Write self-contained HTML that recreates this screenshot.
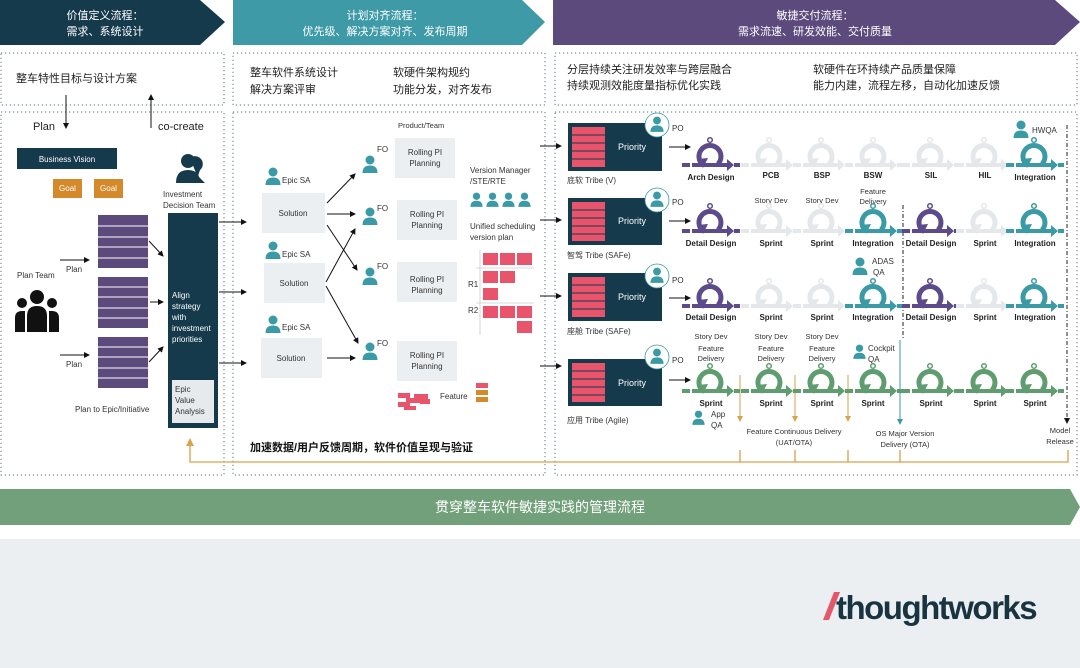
<!DOCTYPE html>
<html><head><meta charset="utf-8"><style>
html,body{margin:0;padding:0;background:#fff}
svg{display:block}
text{font-family:"Liberation Sans","Noto Sans CJK SC",sans-serif}
</style></head><body>
<svg width="1080" height="668" viewBox="0 0 1080 668" xmlns="http://www.w3.org/2000/svg">
<defs>
<symbol id="sp" viewBox="0 0 60 36" width="60" height="36">
 <path d="M37 29 A11 11 0 1 0 22 30" fill="none" stroke="currentColor" stroke-width="5"/>
 <polygon points="16,24 27,23 22,33" fill="currentColor"/>
 <circle cx="29" cy="5" r="2.3" fill="none" stroke="currentColor" stroke-width="1.5"/>
 <rect x="1" y="28" width="8" height="4" fill="currentColor"/>
 <rect x="11" y="28" width="36" height="4" fill="currentColor"/>
 <rect x="53" y="28" width="6" height="4" fill="currentColor"/>
 <polygon points="46,24 53,30 46,36" fill="currentColor"/>
</symbol>
<symbol id="pp" viewBox="0 0 16 18" width="16" height="18">
 <circle cx="8" cy="5" r="4.5" fill="currentColor"/>
 <path d="M0.5 18 Q0.5 10.5 8 10.5 Q15.5 10.5 15.5 18 Z" fill="currentColor"/>
</symbol>
<marker id="ar" markerWidth="6" markerHeight="6" refX="5" refY="3" orient="auto"><path d="M0,0 L6,3 L0,6 Z" fill="#111"/></marker>
<marker id="ao" markerWidth="6" markerHeight="6" refX="5" refY="3" orient="auto"><path d="M0,0 L6,3 L0,6 Z" fill="#d9a24b"/></marker>
<marker id="at" markerWidth="6" markerHeight="6" refX="5" refY="3" orient="auto"><path d="M0,0 L6,3 L0,6 Z" fill="#3a9aa5"/></marker>
</defs>

<!-- header chevrons -->
<polygon points="0,0 200,0 225,22 200,45 0,45" fill="#143a4c"/>
<polygon points="233,0 522,0 545,22 522,45 233,45" fill="#3d9aa6"/>
<polygon points="553,0 1055,0 1080,22 1055,45 553,45" fill="#5c4a7d"/>
<g fill="#fff" font-size="11" text-anchor="middle">
<text x="105" y="19">价值定义流程：</text><text x="105" y="35">需求、系统设计</text>
<text x="385" y="19">计划对齐流程：</text><text x="385" y="35">优先级、解决方案对齐、发布周期</text>
<text x="815" y="19">敏捷交付流程：</text><text x="815" y="35">需求流速、研发效能、交付质量</text>
</g>

<!-- dotted boxes -->
<g fill="none" stroke="#7c8c96" stroke-width="1.2" stroke-dasharray="1.2 2.8">
<rect x="1" y="53" width="223" height="52"/><rect x="233" y="53" width="312" height="52"/><rect x="555" y="53" width="522" height="52"/>
<rect x="1" y="112" width="223" height="363"/><rect x="233" y="112" width="312" height="363"/><rect x="555" y="112" width="522" height="363"/>
</g>

<g fill="#222" font-size="11">
<text x="16" y="82">整车特性目标与设计方案</text>
<text x="250" y="76">整车软件系统设计</text><text x="250" y="93">解决方案评审</text>
<text x="393" y="76">软硬件架构规约</text><text x="393" y="93">功能分发，对齐发布</text>
<text x="567" y="73">分层持续关注研发效率与跨层融合</text><text x="567" y="89">持续观测效能度量指标优化实践</text>
<text x="813" y="73">软硬件在环持续产品质量保障</text><text x="813" y="89">能力内建，流程左移，自动化加速反馈</text>
</g>

<!-- LEFT section -->
<line x1="66" y1="95" x2="66" y2="128" stroke="#111" marker-end="url(#ar)"/>
<line x1="151" y1="128" x2="151" y2="95" stroke="#111" marker-end="url(#ar)"/>
<text x="33" y="130" font-size="11" fill="#222">Plan</text>
<text x="158" y="130" font-size="11" fill="#222">co-create</text>
<rect x="17" y="148" width="100" height="21" fill="#143a4c"/>
<text x="67" y="162" font-size="8" fill="#fff" text-anchor="middle">Business Vision</text>
<rect x="53" y="179" width="29" height="19" fill="#d4892a"/><rect x="94" y="179" width="29" height="19" fill="#d4892a"/>
<text x="67.5" y="191" font-size="8" fill="#fff" text-anchor="middle">Goal</text><text x="108.5" y="191" font-size="8" fill="#fff" text-anchor="middle">Goal</text>
<g fill="#143a4c"><circle cx="196" cy="162" r="5"/><path d="M190 158 A6 6 0 0 1 200 170 L198 176 L205 183 L200 183 Z"/><circle cx="188" cy="161" r="7"/><path d="M176 183 Q176 170 188 170 Q200 170 200 183 Z"/></g>
<text x="163" y="197" font-size="8" fill="#333">Investment</text><text x="163" y="208" font-size="8" fill="#333">Decision Team</text>
<rect x="168" y="213" width="50" height="215" fill="#143a4c"/>
<g font-size="8" fill="#fff"><text x="172" y="298">Align</text><text x="172" y="309">strategy</text><text x="172" y="320">with</text><text x="172" y="331">investment</text><text x="172" y="342">priorities</text></g>
<rect x="172" y="380" width="42" height="43" fill="#e6eaed"/>
<g font-size="8" fill="#333"><text x="175" y="392">Epic</text><text x="175" y="403">Value</text><text x="175" y="414">Analysis</text></g>
<!-- purple stacks -->
<g fill="#5c4a7d">
<rect x="98" y="215" width="50" height="53"/><rect x="98" y="277" width="50" height="51"/><rect x="98" y="337" width="50" height="51"/>
</g>
<g stroke="#fff" stroke-width="1">
<line x1="98" y1="226" x2="148" y2="226"/><line x1="98" y1="237" x2="148" y2="237"/><line x1="98" y1="247" x2="148" y2="247"/><line x1="98" y1="258" x2="148" y2="258"/>
<line x1="98" y1="287" x2="148" y2="287"/><line x1="98" y1="297" x2="148" y2="297"/><line x1="98" y1="308" x2="148" y2="308"/><line x1="98" y1="318" x2="148" y2="318"/>
<line x1="98" y1="347" x2="148" y2="347"/><line x1="98" y1="357" x2="148" y2="357"/><line x1="98" y1="368" x2="148" y2="368"/><line x1="98" y1="378" x2="148" y2="378"/>
</g>
<g stroke="#111" stroke-width="1">
<line x1="149" y1="241" x2="163" y2="256" marker-end="url(#ar)"/>
<line x1="150" y1="302" x2="163" y2="302" marker-end="url(#ar)"/>
<line x1="149" y1="362" x2="163" y2="347" marker-end="url(#ar)"/>
<line x1="60" y1="260" x2="89" y2="260" marker-end="url(#ar)"/>
<line x1="60" y1="355" x2="89" y2="355" marker-end="url(#ar)"/>
<line x1="219" y1="222" x2="246" y2="222" marker-end="url(#ar)"/>
<line x1="219" y1="292" x2="246" y2="292" marker-end="url(#ar)"/>
<line x1="219" y1="363" x2="246" y2="363" marker-end="url(#ar)"/>
</g>
<text x="66" y="272" font-size="8" fill="#333">Plan</text><text x="66" y="367" font-size="8" fill="#333">Plan</text>
<text x="17" y="278" font-size="8" fill="#333">Plan Team</text>
<g fill="#111"><circle cx="37" cy="297" r="7"/><path d="M27 332 L27 316 Q27 306 37 306 Q47 306 47 316 L47 332 Z"/><circle cx="22" cy="303" r="5"/><path d="M15 332 L15 318 Q15 311 22 311 L25 311 L25 332 Z"/><circle cx="52" cy="303" r="5"/><path d="M49 311 L52 311 Q59 311 59 318 L59 332 L49 332 Z"/></g>
<text x="75" y="412" font-size="8" fill="#333">Plan to Epic/Initiative</text>

<!-- MIDDLE -->
<g fill="#eceff1">
<rect x="262" y="193" width="63" height="40"/><rect x="264" y="263" width="61" height="40"/><rect x="261" y="338" width="61" height="40"/>
<rect x="395" y="138" width="60" height="40"/><rect x="397" y="200" width="60" height="40"/><rect x="397" y="262" width="60" height="40"/><rect x="397" y="341" width="60" height="40"/>
</g>
<g font-size="8" fill="#333" text-anchor="middle">
<text x="293" y="216">Solution</text><text x="294" y="286">Solution</text><text x="291" y="361">Solution</text>
<text x="425" y="155">Rolling PI</text><text x="425" y="166">Planning</text>
<text x="427" y="217">Rolling PI</text><text x="427" y="228">Planning</text>
<text x="427" y="282">Rolling PI</text><text x="427" y="293">Planning</text>
<text x="427" y="358">Rolling PI</text><text x="427" y="369">Planning</text>
</g>
<text x="398" y="128" font-size="7.5" fill="#333">Product/Team</text>
<g color="#3a9aa5">
<use href="#pp" x="265" y="167"/><use href="#pp" x="265" y="241"/><use href="#pp" x="265" y="315"/>
<use href="#pp" x="362" y="155"/><use href="#pp" x="362" y="207"/><use href="#pp" x="362" y="267"/><use href="#pp" x="362" y="342"/>
<use href="#pp" x="470" y="192" width="13" height="15"/><use href="#pp" x="486" y="192" width="13" height="15"/><use href="#pp" x="502" y="192" width="13" height="15"/><use href="#pp" x="518" y="192" width="13" height="15"/>
</g>
<g font-size="8" fill="#333">
<text x="282" y="183">Epic SA</text><text x="282" y="257">Epic SA</text><text x="282" y="330">Epic SA</text>
<text x="377" y="152">FO</text><text x="377" y="211">FO</text><text x="377" y="269">FO</text><text x="377" y="346">FO</text>
<text x="470" y="173">Version Manager</text><text x="470" y="184">/STE/RTE</text>
<text x="470" y="229">Unified scheduling</text><text x="470" y="240">version plan</text>
<text x="468" y="287">R1</text><text x="468" y="313">R2</text>
<text x="440" y="399">Feature</text>
</g>
<g stroke="#111" stroke-width="1">
<line x1="327" y1="203" x2="355" y2="174" marker-end="url(#ar)"/>
<line x1="327" y1="214" x2="355" y2="214" marker-end="url(#ar)"/>
<line x1="327" y1="225" x2="357" y2="270" marker-end="url(#ar)"/>
<line x1="326" y1="282" x2="355" y2="229" marker-end="url(#ar)"/>
<line x1="326" y1="286" x2="358" y2="343" marker-end="url(#ar)"/>
<line x1="327" y1="358" x2="355" y2="358" marker-end="url(#ar)"/>
</g>
<g stroke="#ccc" stroke-width="0.8"><line x1="480" y1="250" x2="480" y2="335"/><line x1="476" y1="268" x2="534" y2="268"/><line x1="476" y1="303" x2="534" y2="303"/></g>
<g fill="#e8546b">
<rect x="483" y="253" width="15" height="12"/><rect x="500" y="253" width="15" height="12"/><rect x="517" y="253" width="15" height="12"/>
<rect x="483" y="271" width="15" height="12"/><rect x="500" y="271" width="15" height="12"/>
<rect x="483" y="288" width="15" height="12"/>
<rect x="483" y="306" width="15" height="12"/><rect x="500" y="306" width="15" height="12"/><rect x="517" y="306" width="15" height="12"/>
<rect x="517" y="321" width="15" height="12"/>
<rect x="398" y="393" width="12" height="5"/><rect x="406" y="398" width="14" height="5"/><rect x="414" y="394" width="14" height="5"/><rect x="398" y="402" width="12" height="5"/><rect x="404" y="406" width="12" height="4"/><rect x="420" y="399" width="10" height="5"/>
<rect x="476" y="383" width="12" height="5"/>
</g>
<g fill="#d4892a"><rect x="476" y="390" width="12" height="5"/><rect x="476" y="397" width="12" height="5"/></g>
<text x="250" y="451" font-size="11" font-weight="bold" fill="#111">加速数据/用户反馈周期，软件价值呈现与验证</text>

<!-- feedback line -->
<g stroke="#d9a24b" stroke-width="1.3" fill="none">
<polyline points="1068,450 1068,462 190,462 190,444" />
<line x1="740" y1="450" x2="740" y2="462"/><line x1="795" y1="450" x2="795" y2="462"/><line x1="848" y1="450" x2="848" y2="462"/><line x1="900" y1="450" x2="900" y2="462"/>
</g>
<polygon points="186,446 190,438 194,446" fill="#d9a24b"/>

<!-- RIGHT -->
<g stroke="#111" stroke-width="1">
<line x1="540" y1="146" x2="561" y2="146" marker-end="url(#ar)"/>
<line x1="540" y1="220" x2="561" y2="220" marker-end="url(#ar)"/>
<line x1="540" y1="296" x2="561" y2="296" marker-end="url(#ar)"/>
<line x1="540" y1="366" x2="561" y2="366" marker-end="url(#ar)"/>
<line x1="669" y1="147" x2="690" y2="147" marker-end="url(#ar)"/>
<line x1="669" y1="221" x2="690" y2="221" marker-end="url(#ar)"/>
<line x1="669" y1="298" x2="690" y2="298" marker-end="url(#ar)"/>
<line x1="669" y1="380" x2="690" y2="380" marker-end="url(#ar)"/>
</g>
<g>
<rect x="568" y="123" width="94" height="48" fill="#143a4c"/><rect x="568" y="198" width="94" height="47" fill="#143a4c"/><rect x="568" y="273" width="94" height="48" fill="#143a4c"/><rect x="568" y="359" width="94" height="47" fill="#143a4c"/>
</g>
<g fill="#e8546b">
<rect x="572" y="127" width="33" height="40"/><rect x="572" y="202" width="33" height="39"/><rect x="572" y="277" width="33" height="40"/><rect x="572" y="363" width="33" height="39"/>
</g>
<g stroke="#143a4c" stroke-width="1">
<line x1="572" y1="135" x2="605" y2="135"/><line x1="572" y1="143" x2="605" y2="143"/><line x1="572" y1="151" x2="605" y2="151"/><line x1="572" y1="159" x2="605" y2="159"/>
<line x1="572" y1="210" x2="605" y2="210"/><line x1="572" y1="218" x2="605" y2="218"/><line x1="572" y1="226" x2="605" y2="226"/><line x1="572" y1="234" x2="605" y2="234"/>
<line x1="572" y1="285" x2="605" y2="285"/><line x1="572" y1="293" x2="605" y2="293"/><line x1="572" y1="301" x2="605" y2="301"/><line x1="572" y1="309" x2="605" y2="309"/>
<line x1="572" y1="371" x2="605" y2="371"/><line x1="572" y1="379" x2="605" y2="379"/><line x1="572" y1="387" x2="605" y2="387"/><line x1="572" y1="395" x2="605" y2="395"/>
</g>
<g font-size="9" fill="#fff" text-anchor="middle"><text x="632" y="150">Priority</text><text x="632" y="224">Priority</text><text x="632" y="300">Priority</text><text x="632" y="386">Priority</text></g>
<g fill="#fff" stroke="#3a9aa5" stroke-width="0.8"><circle cx="657" cy="125" r="12"/><circle cx="657" cy="200" r="12"/><circle cx="657" cy="276" r="12"/><circle cx="657" cy="357" r="12"/></g>
<g color="#3a9aa5"><use href="#pp" x="650" y="116" width="14" height="16"/><use href="#pp" x="650" y="191" width="14" height="16"/><use href="#pp" x="650" y="267" width="14" height="16"/><use href="#pp" x="650" y="348" width="14" height="16"/>
<use href="#pp" x="1013" y="120"/><use href="#pp" x="852" y="257"/><use href="#pp" x="853" y="344" width="13" height="15"/><use href="#pp" x="692" y="410" width="13" height="15"/></g>
<g font-size="8" fill="#333">
<text x="672" y="131">PO</text><text x="672" y="205">PO</text><text x="672" y="283">PO</text><text x="672" y="363">PO</text>
<text x="567" y="183">底软 Tribe (V)</text><text x="567" y="258">智驾 Tribe (SAFe)</text><text x="567" y="334">座舱 Tribe (SAFe)</text><text x="567" y="423">应用 Tribe (Agile)</text>
<text x="1032" y="133">HWQA</text>
<text x="872" y="264">ADAS</text><text x="873" y="275">QA</text>
<text x="868" y="351">Cockpit</text><text x="868" y="362">QA</text>
<text x="711" y="417">App</text><text x="711" y="428">QA</text>
</g>
<g font-size="7.5" fill="#333" text-anchor="middle">
<text x="771" y="203">Story Dev</text><text x="822" y="203">Story Dev</text><text x="873" y="194">Feature</text><text x="873" y="204">Delivery</text>
<text x="711" y="339">Story Dev</text><text x="771" y="339">Story Dev</text><text x="822" y="339">Story Dev</text>
<text x="711" y="351">Feature</text><text x="711" y="361">Delivery</text><text x="771" y="351">Feature</text><text x="771" y="361">Delivery</text><text x="822" y="351">Feature</text><text x="822" y="361">Delivery</text>
<text x="794" y="434">Feature Continuous Delivery</text><text x="794" y="445">(UAT/OTA)</text>
<text x="905" y="436">OS Major Version</text><text x="905" y="447">Delivery (OTA)</text>
<text x="1060" y="433">Model</text><text x="1060" y="444">Release</text>
</g>
<!-- vertical dividers -->
<line x1="903" y1="205" x2="903" y2="340" stroke="#222" stroke-dasharray="4 2 1 2"/>
<line x1="1067" y1="125" x2="1067" y2="423" stroke="#222" stroke-dasharray="4 2 1 2" marker-end="url(#ar)"/>
<line x1="900" y1="340" x2="900" y2="424" stroke="#3a9aa5" marker-end="url(#at)"/>
<g stroke="#d9a24b"><line x1="740" y1="375" x2="740" y2="421" marker-end="url(#ao)"/><line x1="795" y1="375" x2="795" y2="421" marker-end="url(#ao)"/><line x1="848" y1="375" x2="848" y2="421" marker-end="url(#ao)"/></g>

<!-- sprint icons -->
<g>
<use href="#sp" x="681" y="135" color="#5c4a8a"/>
<use href="#sp" x="740" y="135" color="#e4e8ea"/><use href="#sp" x="792" y="135" color="#e4e8ea"/><use href="#sp" x="844" y="135" color="#e4e8ea"/><use href="#sp" x="901" y="135" color="#e4e8ea"/><use href="#sp" x="955" y="135" color="#e4e8ea"/>
<use href="#sp" x="1005" y="135" color="#3a9aa5"/>
<use href="#sp" x="681" y="201" color="#5c4a8a"/><use href="#sp" x="740" y="201" color="#e4e8ea"/><use href="#sp" x="792" y="201" color="#e4e8ea"/><use href="#sp" x="844" y="201" color="#3a9aa5"/><use href="#sp" x="901" y="201" color="#5c4a8a"/><use href="#sp" x="955" y="201" color="#e4e8ea"/><use href="#sp" x="1005" y="201" color="#3a9aa5"/>
<use href="#sp" x="681" y="276" color="#5c4a8a"/><use href="#sp" x="740" y="276" color="#e4e8ea"/><use href="#sp" x="792" y="276" color="#e4e8ea"/><use href="#sp" x="844" y="276" color="#3a9aa5"/><use href="#sp" x="901" y="276" color="#5c4a8a"/><use href="#sp" x="955" y="276" color="#e4e8ea"/><use href="#sp" x="1005" y="276" color="#3a9aa5"/>
<g color="#5f9d70"><use href="#sp" x="681" y="361"/><use href="#sp" x="740" y="361"/><use href="#sp" x="792" y="361"/><use href="#sp" x="844" y="361"/><use href="#sp" x="901" y="361"/><use href="#sp" x="955" y="361"/><use href="#sp" x="1005" y="361"/></g>
</g>
<g font-size="8" font-weight="bold" fill="#222" text-anchor="middle">
<text x="711" y="180">Arch Design</text><text x="771" y="178">PCB</text><text x="822" y="178">BSP</text><text x="873" y="178">BSW</text><text x="931" y="178">SIL</text><text x="985" y="178">HIL</text><text x="1035" y="180">Integration</text>
<text x="711" y="246">Detail Design</text><text x="771" y="246">Sprint</text><text x="822" y="246">Sprint</text><text x="873" y="246">Integration</text><text x="931" y="246">Detail Design</text><text x="985" y="246">Sprint</text><text x="1035" y="246">Integration</text>
<text x="711" y="320">Detail Design</text><text x="771" y="320">Sprint</text><text x="822" y="320">Sprint</text><text x="873" y="320">Integration</text><text x="931" y="320">Detail Design</text><text x="985" y="320">Sprint</text><text x="1035" y="320">Integration</text>
<text x="711" y="406">Sprint</text><text x="771" y="406">Sprint</text><text x="822" y="406">Sprint</text><text x="873" y="406">Sprint</text><text x="931" y="406">Sprint</text><text x="985" y="406">Sprint</text><text x="1035" y="406">Sprint</text>
</g>

<!-- green band -->
<polygon points="0,489 1070,489 1080,507 1070,525 0,525" fill="#71a07b"/>
<text x="540" y="512" font-size="14" fill="#fff" text-anchor="middle">贯穿整车软件敏捷实践的管理流程</text>

<!-- footer -->
<rect x="0" y="539" width="1080" height="129" fill="#eceff2"/>
<polygon points="823,620 829,620 840,592 834,592" fill="#e5566b"/>
<text x="836" y="619" font-size="33" font-weight="bold" fill="#173440" letter-spacing="-1.5">thoughtworks</text>
</svg>
</body></html>
